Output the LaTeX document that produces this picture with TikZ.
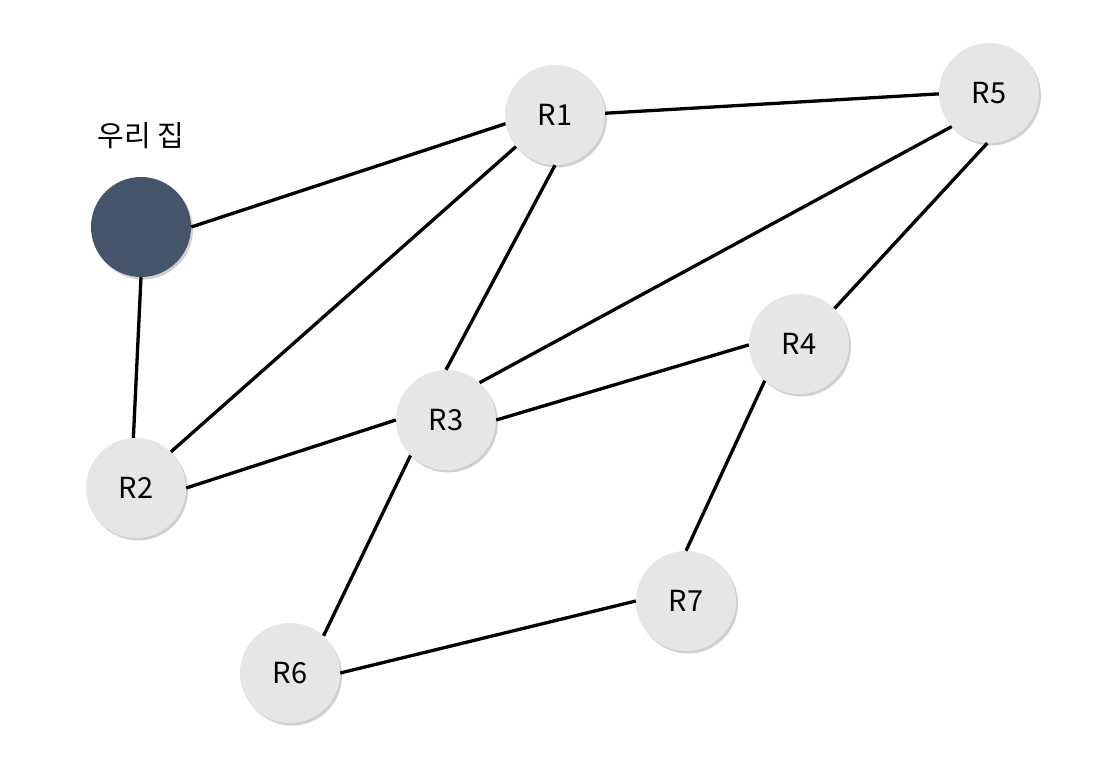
\documentclass[tikz,border=0pt]{standalone}
\usepackage{fontspec}
\setmainfont{Noto Sans CJK KR}
\usetikzlibrary{shadows}
\definecolor{nodegray}{HTML}{E7E6E6}
\definecolor{homeblue}{HTML}{44546A}
\begin{document}
\begin{tikzpicture}[x=1pt,y=-1pt,
  router/.style={circle,fill=nodegray,minimum size=100pt,inner sep=0pt,font=\fontsize{29}{34}\selectfont,
    drop shadow={shadow xshift=2pt,shadow yshift=-2.5pt,opacity=0.3,fill=black!60}},
  home/.style={circle,fill=homeblue,minimum size=100pt,inner sep=0pt,
    drop shadow={shadow xshift=2pt,shadow yshift=-2.5pt,opacity=0.3,fill=black!60}},
  link/.style={line width=3.3pt,black}]
\useasboundingbox (0,0) rectangle (1116,768);
\fill[white] (0,0) rectangle (1116,768);
\node[home] (H) at (141,227) {};
\node[font=\fontsize{29}{34}\selectfont] (HL) at (141,136) {우리 집};
\node[router] (R1) at (555,115) {R1};
\node[router] (R5) at (989,93) {R5};
\node[router] (R4) at (799,344) {R4};
\node[router] (R3) at (446,420) {R3};
\node[router] (R2) at (136,488) {R2};
\node[router] (R7) at (686,601) {R7};
\node[router] (R6) at (290,673) {R6};
\draw[link] (H.0) -- (R1.190);
\draw[link] (H.270) -- (R2.93);
\draw[link] (R1.2) -- (R5.181);
\draw[link] (R1.219) -- (R2.46);
\draw[link] (R1.270) -- (R3.90);
\draw[link] (R5.222) -- (R3.48);
\draw[link] (R5.268) -- (R4.45);
\draw[link] (R3.0) -- (R4.181);
\draw[link] (R2.0) -- (R3.180);
\draw[link] (R3.225) -- (R6.48);
\draw[link] (R4.227) -- (R7.90);
\draw[link] (R6.0) -- (R7.180);
\end{tikzpicture}
\end{document}
